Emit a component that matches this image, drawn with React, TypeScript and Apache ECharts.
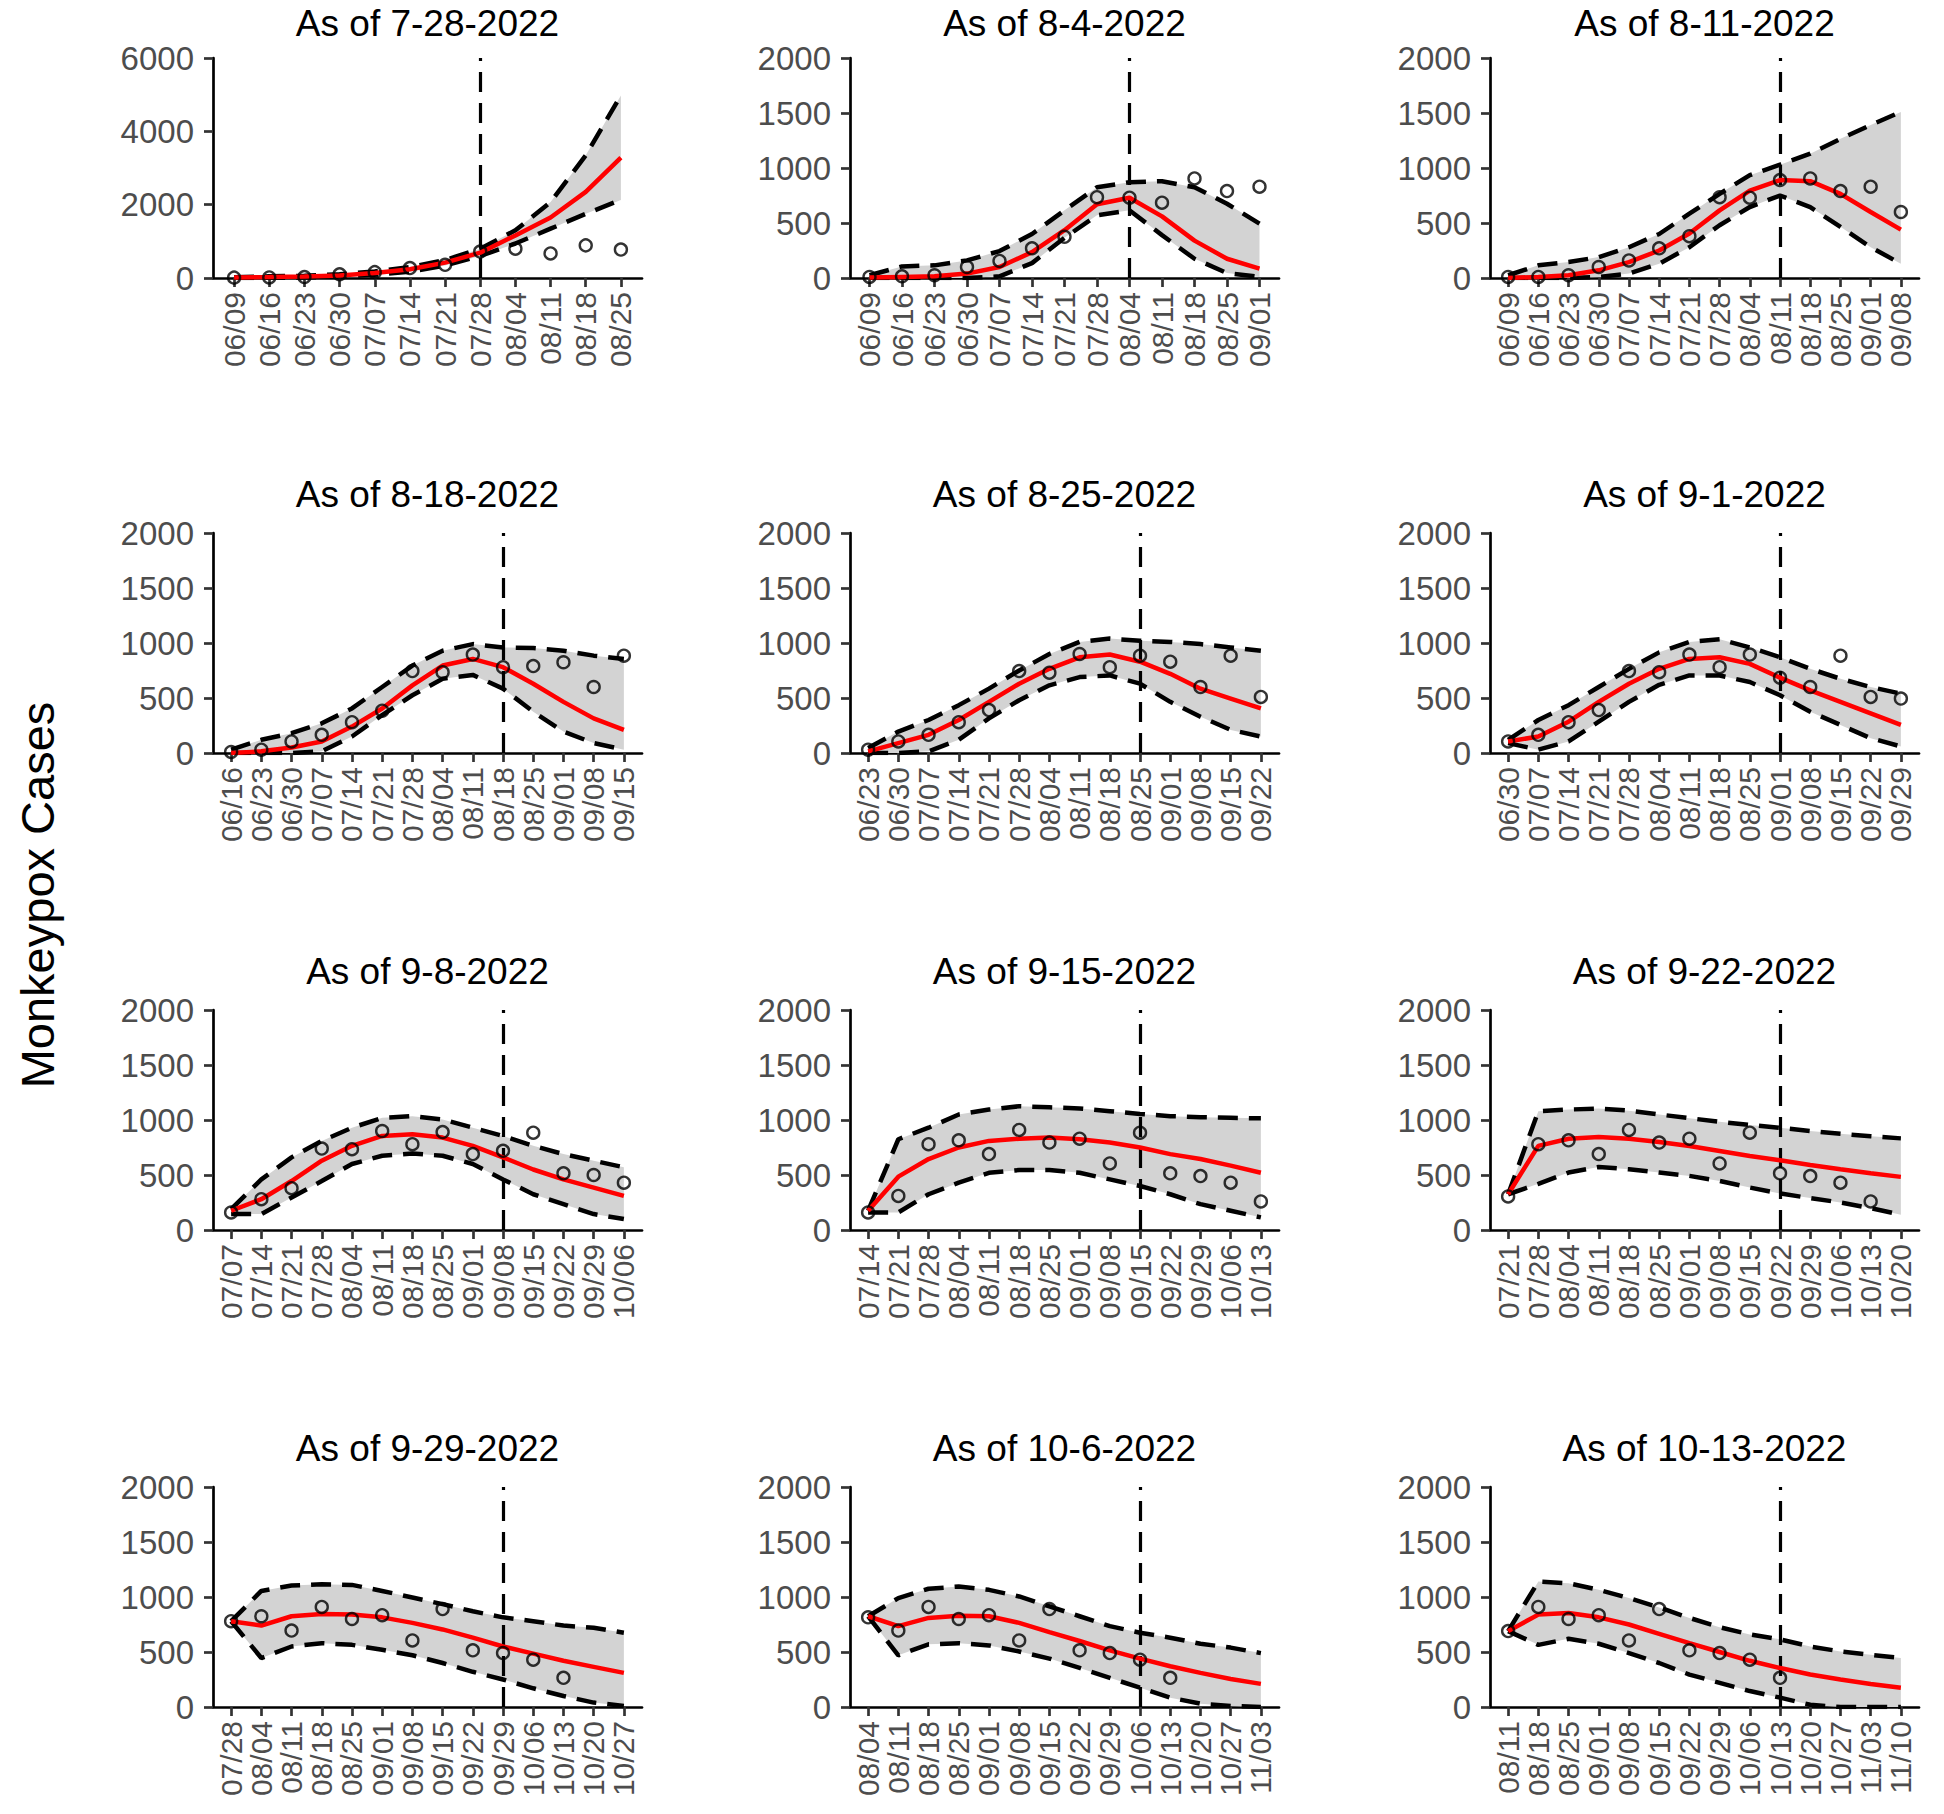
import React, { useEffect, useRef } from "react";
import * as echarts from "echarts";

// ---------- DATA ----------
const weeks = [
  "06/09", "06/16", "06/23", "06/30", "07/07", "07/14", "07/21", "07/28",
  "08/04", "08/11", "08/18", "08/25", "09/01", "09/08", "09/15", "09/22",
  "09/29", "10/06", "10/13", "10/20", "10/27", "11/03", "11/10",
];
const titles = [
  "As of 7-28-2022", "As of 8-4-2022", "As of 8-11-2022",
  "As of 8-18-2022", "As of 8-25-2022", "As of 9-1-2022",
  "As of 9-8-2022", "As of 9-15-2022", "As of 9-22-2022",
  "As of 9-29-2022", "As of 10-6-2022", "As of 10-13-2022",
];
const firstWeek = ["06/09", "06/09", "06/09", "06/16", "06/23", "06/30", "07/07", "07/14", "07/21", "07/28", "08/04", "08/11"];
const weekCount = [12, 13, 14, 14, 14, 14, 14, 14, 14, 14, 14, 14];
const asOfWeek = ["07/28", "08/04", "08/11", "08/18", "08/25", "09/01", "09/08", "09/15", "09/22", "09/29", "10/06", "10/13"];
const yMax = [6000, 2000, 2000, 2000, 2000, 2000, 2000, 2000, 2000, 2000, 2000, 2000];
const yStep = [2000, 500, 500, 500, 500, 500, 500, 500, 500, 500, 500, 500];

// observed weekly cases (circles)
const obs1 = [10, 15, 25, 100, 160, 270, 360, 720, 800, 670, 890, 775];
const obs2 = [10, 15, 25, 100, 155, 270, 375, 735, 730, 685, 905, 790, 830];
const obs3 = [10, 10, 25, 100, 160, 270, 380, 735, 730, 890, 905, 790, 830, 600];
const obs4 = [10, 30, 105, 165, 280, 385, 745, 735, 895, 780, 790, 825, 600, 885];
const obs5 = [30, 105, 165, 280, 390, 745, 730, 900, 780, 885, 830, 600, 885, 510];
const obs6 = [105, 165, 280, 390, 745, 735, 895, 780, 895, 685, 600, 885, 510, 495];
const obs7 = [160, 280, 380, 740, 735, 900, 780, 890, 690, 720, 885, 515, 500, 430];
const obs8 = [160, 310, 780, 815, 690, 910, 795, 830, 605, 885, 515, 490, 430, 260];
const obs9 = [305, 780, 815, 690, 910, 795, 830, 605, 885, 515, 490, 430, 260, null];
const obs10 = [780, 825, 695, 910, 800, 835, 605, 890, 515, 490, 430, 265, null, null];
const obs11 = [815, 695, 910, 800, 835, 605, 890, 515, 490, 430, 265, null, null, null];
const obs12 = [690, 910, 800, 835, 605, 890, 515, 490, 430, 265, null, null, null, null];

// model median (red line)
const med1 = [15, 25, 40, 70, 135, 240, 420, 690, 1160, 1650, 2350, 3280];
const med2 = [5, 10, 15, 40, 100, 235, 435, 670, 730, 560, 340, 175, 85];
const med3 = [0, 10, 25, 70, 145, 250, 405, 615, 795, 890, 880, 765, 600, 440];
const med4 = [0, 15, 50, 105, 240, 405, 615, 795, 855, 780, 630, 465, 315, 210];
const med5 = [15, 90, 165, 300, 465, 630, 765, 870, 895, 830, 720, 585, 495, 405];
const med6 = [105, 150, 285, 465, 630, 765, 855, 870, 810, 685, 570, 465, 360, 255];
const med7 = [175, 280, 445, 630, 765, 855, 870, 840, 765, 660, 550, 460, 385, 310];
const med8 = [175, 485, 645, 750, 810, 830, 840, 825, 795, 750, 690, 645, 585, 520];
const med9 = [325, 765, 830, 845, 830, 800, 763, 718, 673, 634, 591, 552, 516, 483];
const med10 = [780, 740, 825, 845, 840, 815, 765, 705, 630, 550, 485, 420, 365, 310];
const med11 = [825, 735, 810, 830, 825, 765, 680, 600, 515, 440, 370, 310, 255, 210];
const med12 = [690, 840, 855, 815, 750, 665, 580, 500, 420, 355, 295, 250, 210, 175];

// upper bound (dashed)
const up1 = [20, 45, 60, 100, 180, 300, 490, 800, 1300, 2070, 3345, 4980];
const up2 = [25, 105, 115, 160, 245, 400, 615, 825, 870, 880, 825, 675, 495];
const up3 = [25, 115, 145, 190, 280, 400, 585, 765, 935, 1030, 1130, 1265, 1390, 1510];
const up4 = [30, 120, 180, 270, 405, 600, 795, 930, 990, 960, 955, 930, 885, 855];
const up5 = [45, 195, 300, 435, 585, 750, 900, 1010, 1040, 1020, 1010, 990, 960, 930];
const up6 = [120, 300, 435, 600, 765, 915, 1010, 1035, 960, 870, 765, 675, 600, 540];
const up7 = [190, 460, 660, 810, 930, 1020, 1035, 1005, 930, 855, 765, 690, 630, 570];
const up8 = [175, 825, 930, 1050, 1095, 1125, 1115, 1105, 1080, 1055, 1035, 1025, 1020, 1015];
const up9 = [325, 1080, 1095, 1104, 1085, 1050, 1017, 983, 955, 929, 900, 875, 852, 833];
const up10 = [780, 1055, 1105, 1115, 1110, 1055, 995, 935, 870, 815, 780, 740, 720, 675];
const up11 = [825, 990, 1075, 1095, 1065, 1005, 915, 825, 735, 675, 630, 575, 540, 490];
const up12 = [690, 1140, 1125, 1065, 990, 905, 810, 725, 660, 615, 550, 505, 475, 445];

// lower bound (dashed)
const lo1 = [0, 5, 15, 40, 90, 170, 340, 600, 940, 1345, 1750, 2130];
const lo2 = [0, 0, 0, 0, 15, 135, 365, 570, 615, 390, 175, 45, 10];
const lo3 = [0, 0, 0, 10, 40, 130, 280, 480, 645, 750, 645, 465, 280, 130];
const lo4 = [0, 0, 0, 15, 150, 345, 525, 675, 710, 585, 375, 195, 90, 30];
const lo5 = [0, 0, 15, 120, 315, 480, 615, 690, 705, 630, 465, 330, 210, 150];
const lo6 = [90, 30, 105, 285, 465, 620, 705, 705, 645, 525, 375, 255, 135, 60];
const lo7 = [145, 145, 295, 445, 600, 675, 695, 675, 600, 460, 325, 235, 145, 100];
const lo8 = [160, 160, 325, 430, 520, 545, 545, 520, 460, 400, 325, 235, 175, 115];
const lo9 = [325, 420, 522, 573, 552, 522, 492, 446, 386, 332, 290, 250, 199, 139];
const lo10 = [780, 445, 550, 580, 565, 520, 470, 400, 320, 250, 170, 100, 40, 10];
const lo11 = [825, 470, 570, 580, 560, 505, 440, 355, 265, 175, 85, 30, 10, 0];
const lo12 = [690, 565, 620, 575, 490, 400, 295, 220, 145, 85, 20, 0, 0, 0];

const observed = [obs1, obs2, obs3, obs4, obs5, obs6, obs7, obs8, obs9, obs10, obs11, obs12];
const median = [med1, med2, med3, med4, med5, med6, med7, med8, med9, med10, med11, med12];
const upper = [up1, up2, up3, up4, up5, up6, up7, up8, up9, up10, up11, up12];
const lower = [lo1, lo2, lo3, lo4, lo5, lo6, lo7, lo8, lo9, lo10, lo11, lo12];

// ---------- LAYOUT ----------
const W = 1944;
const H = 1814;
const colLeft = [213, 850, 1490];
const rowTop = [58, 533, 1010, 1487];
const titleY = [23, 494, 971, 1448];
const plotW = 429;
const plotH = 220;
const FONT = "'Liberation Sans', Arial, Helvetica, sans-serif";
const DASH = [20, 11];

function buildOption() {
  const grid: any[] = [];
  const xAxis: any[] = [];
  const yAxis: any[] = [];
  const series: any[] = [];
  const graphic: any[] = [];

  for (let p = 0; p < 12; p++) {
    const row = Math.floor(p / 3);
    const col = p % 3;
    const left = colLeft[col];
    const top = rowTop[row];
    const n = weekCount[p];
    const s0 = weeks.indexOf(firstWeek[p]);
    const labels = weeks.slice(s0, s0 + n);
    const idx = labels.map((_, i) => i);
    const vIdx = labels.indexOf(asOfWeek[p]);

    grid.push({ left, top, width: plotW, height: plotH, containLabel: false });

    xAxis.push({
      type: "value",
      gridIndex: p,
      min: -0.6,
      max: n - 1 + 0.6,
      axisLine: { show: true, onZero: false, lineStyle: { color: "#000", width: 2.7 } },
      axisTick: {
        show: true,
        customValues: idx,
        length: 9,
        lineStyle: { color: "#333", width: 2.7 },
      },
      axisLabel: {
        show: true,
        customValues: idx,
        formatter: (v: number) => labels[Math.round(v)] ?? "",
        rotate: 90,
        margin: 14,
        fontSize: 30,
        color: "#4d4d4d",
        fontFamily: FONT,
      },
      splitLine: { show: false },
    });

    yAxis.push({
      type: "value",
      gridIndex: p,
      min: 0,
      max: yMax[p],
      interval: yStep[p],
      axisLine: { show: true, onZero: false, lineStyle: { color: "#000", width: 2.7 } },
      axisTick: { show: true, length: 9, lineStyle: { color: "#333", width: 2.7 } },
      axisLabel: {
        formatter: (v: number) => String(v),
        margin: 19,
        fontSize: 33,
        color: "#4d4d4d",
        fontFamily: FONT,
      },
      splitLine: { show: false },
    });

    const up = upper[p];
    const lo = lower[p];

    // gray prediction band
    series.push({
      type: "custom",
      xAxisIndex: p,
      yAxisIndex: p,
      silent: true,
      z: 1,
      data: lo.map((l, i) => [i, l, up[i]]),
      encode: { x: 0, y: [1, 2] },
      renderItem: (params: any, api: any) => {
        if (params.dataIndex !== 0) return { type: "group", children: [] };
        const pts: number[][] = [];
        for (let i = 0; i < up.length; i++) pts.push(api.coord([i, up[i]]));
        for (let i = lo.length - 1; i >= 0; i--) pts.push(api.coord([i, lo[i]]));
        return { type: "polygon", shape: { points: pts }, style: { fill: "#d3d3d3" } };
      },
    });

    // dashed bounds
    [up, lo].forEach((arr) => {
      series.push({
        type: "line",
        xAxisIndex: p,
        yAxisIndex: p,
        data: arr.map((v, i) => [i, v]),
        symbol: "none",
        silent: true,
        z: 3,
        lineStyle: { color: "#000", width: 4.5, type: DASH, cap: "butt" },
      });
    });

    // median line with vertical "as of" marker
    series.push({
      type: "line",
      xAxisIndex: p,
      yAxisIndex: p,
      data: median[p].map((v, i) => [i, v]),
      symbol: "none",
      silent: true,
      z: 4,
      lineStyle: { color: "#ff0000", width: 4.5 },
      markLine: {
        silent: true,
        symbol: ["none", "none"],
        label: { show: false },
        lineStyle: { color: "#000", width: 3.2, type: DASH },
        data: [{ xAxis: vIdx }],
        z: 3,
      },
    });

    // observed points
    series.push({
      type: "scatter",
      xAxisIndex: p,
      yAxisIndex: p,
      data: observed[p]
        .map((v, i) => (v === null ? null : [i, v]))
        .filter((d) => d !== null),
      symbol: "circle",
      symbolSize: 12,
      silent: true,
      z: 5,
      itemStyle: { color: "rgba(0,0,0,0)", borderColor: "#000", borderWidth: 2.4 },
    });

    graphic.push({
      type: "text",
      x: left + plotW / 2,
      y: titleY[row],
      style: {
        text: titles[p],
        fontSize: 37,
        fontFamily: FONT,
        fill: "#000",
        align: "center",
        verticalAlign: "middle",
      },
    });
  }

  graphic.push({
    type: "text",
    x: 37,
    y: 895,
    rotation: Math.PI / 2,
    style: {
      text: "Monkeypox Cases",
      fontSize: 47,
      fontFamily: FONT,
      fill: "#000",
      align: "center",
      verticalAlign: "middle",
    },
  });

  return {
    animation: false,
    backgroundColor: "#ffffff",
    grid,
    xAxis,
    yAxis,
    series,
    graphic,
  };
}

export default function App() {
  const ref = useRef<HTMLDivElement>(null);
  useEffect(() => {
    if (!ref.current) return;
    const chart = echarts.init(ref.current, undefined, { renderer: "svg", width: W, height: H });
    chart.setOption(buildOption() as any);
    return () => chart.dispose();
  }, []);
  return (
    <div
      ref={ref}
      style={{ position: "absolute", left: 0, top: 0, width: W, height: H, background: "#fff" }}
    />
  );
}
